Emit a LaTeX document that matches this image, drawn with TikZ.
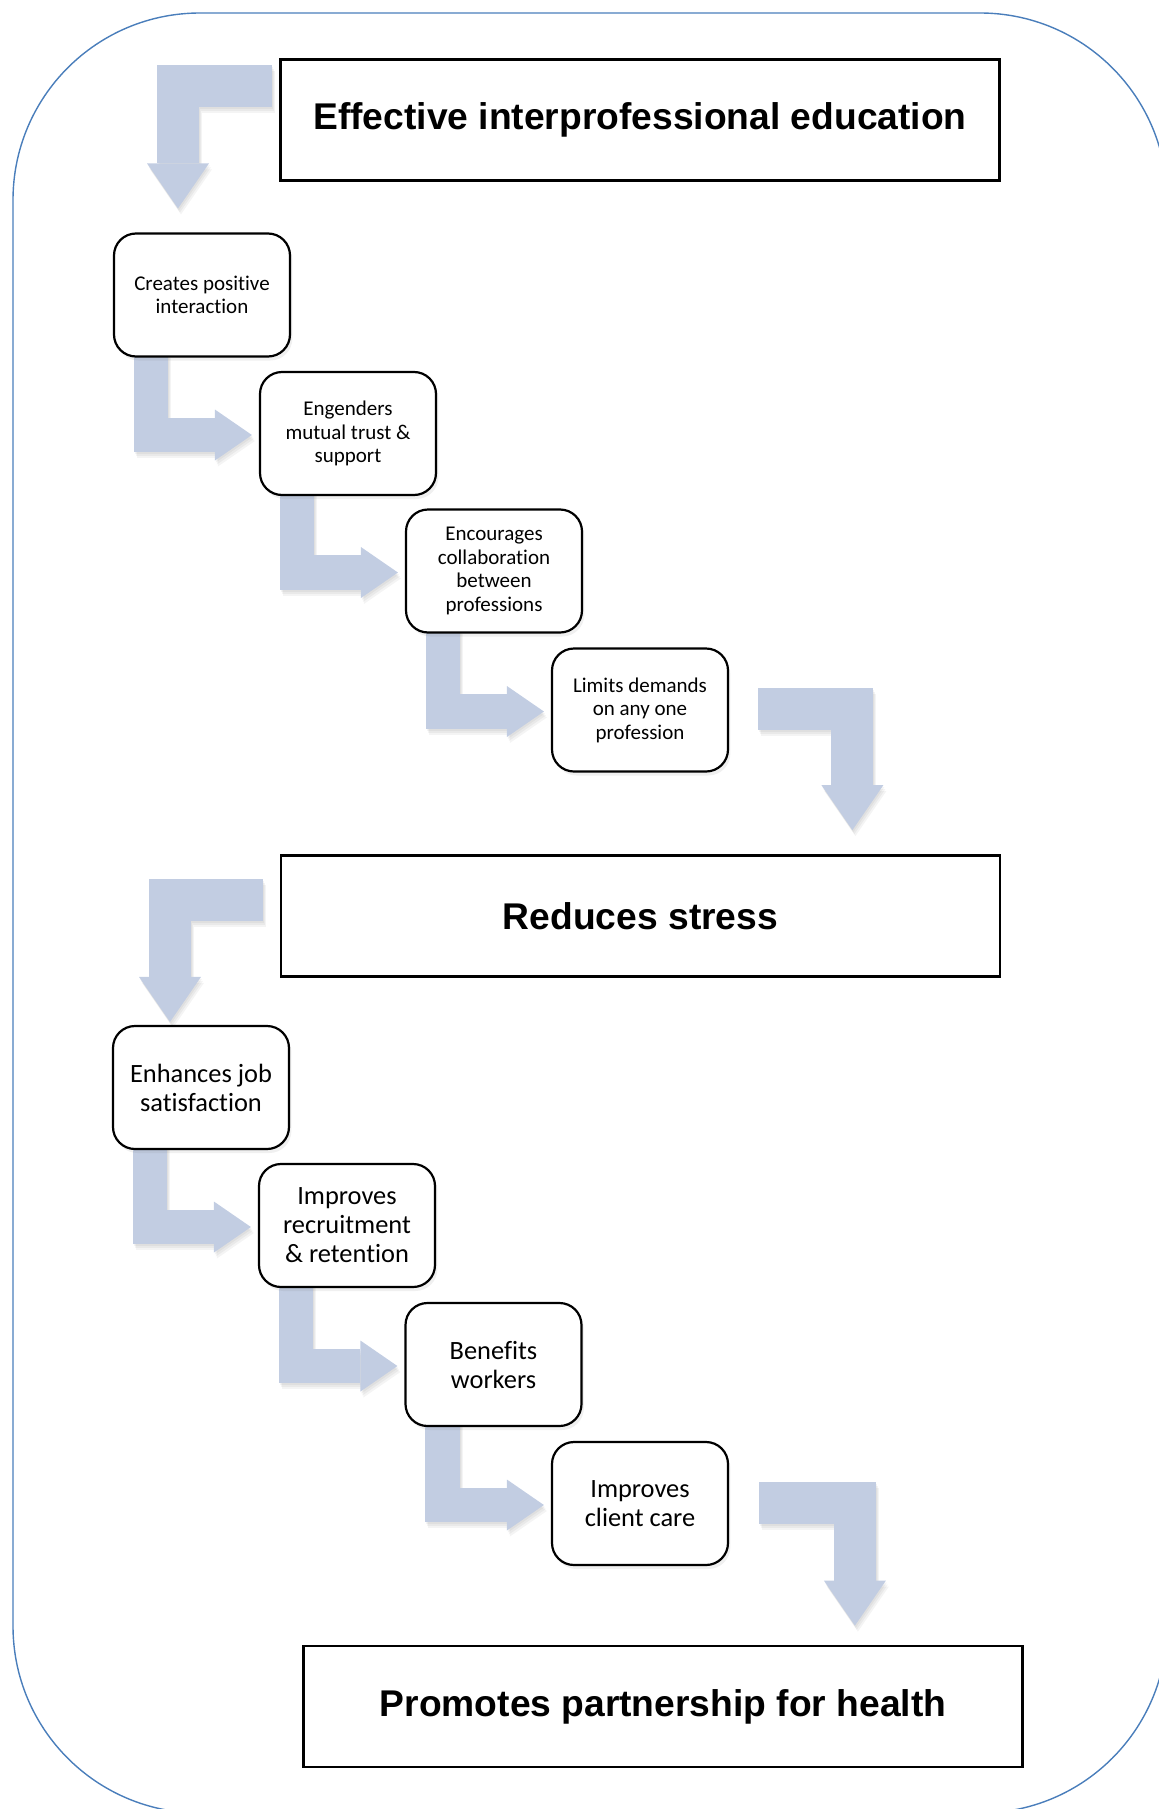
\documentclass[tikz,border=0pt]{standalone}
\usepackage{fontspec}
\setmainfont{Carlito}[Ligatures={NoCommon}]
\newfontfamily\arialfont{Liberation Sans}
\usetikzlibrary{calc,shadows}
\definecolor{arrowfill}{RGB}{194,205,226}
\definecolor{framecol}{RGB}{74,126,187}
\pgfdeclarelayer{background}
\pgfsetlayers{background,main}
\tikzset{
  stepbox/.style={draw=black, line width=1.1pt, rounded corners=11pt, fill=white,
    minimum width=88pt, minimum height=61.5pt, align=center, inner sep=2pt,
    drop shadow={shadow xshift=1.2pt, shadow yshift=-2pt, opacity=0.12}},
  smalltext/.style={font=\fontsize{10.5pt}{11.75pt}\selectfont},
  largetext/.style={font=\fontsize{13.2pt}{14.5pt}\selectfont},
  bigbox/.style={draw=black, line width=1.4pt, fill=white, minimum width=359.5pt,
    minimum height=60.5pt, inner sep=2pt, font=\arialfont\bfseries\fontsize{18.6pt}{22pt}\selectfont},
  shaft/.style={draw=arrowfill, line cap=butt, line join=miter},
  head/.style={fill=arrowfill},
  shadowshaft/.style={draw=black, opacity=0.045, line cap=butt, line join=miter},
  shadowhead/.style={fill=black, opacity=0.045},
  frame/.style={draw=framecol, line width=0.7pt, rounded corners=93.5pt}
}
% bent block arrow: horizontal first, then down to the tip
\newcommand{\bigarrowHV}[2]{%
  \foreach \sx/\sy in {0.5pt/-1pt, 1pt/-2pt, 1.5pt/-3pt}{%
    \begin{scope}[transform canvas={xshift=\sx,yshift=\sy}]
      \draw[shadowshaft, line width=21pt] (#1) -- (#2 |- #1) -- ($(#2)+(0,-45)$);
      \fill[shadowhead] ($(#2)+(-31,-45)$) -- ($(#2)+(31,-45)$) -- (#2) -- cycle;
    \end{scope}}
  \draw[shaft, line width=21pt] (#1) -- (#2 |- #1) -- ($(#2)+(0,-45)$);
  \fill[head] ($(#2)+(-31,-45)$) -- ($(#2)+(31,-45)$) -- (#2) -- cycle;
}
% bent block arrow between two step boxes: down, then right
\newcommand{\smallarrow}[2]{%
  \path ($(#1.south west)+(38,-6)$) coordinate (#1#2s)
        ($(#2.west)+(-7,1.5)$) coordinate (#1#2t);
  \foreach \sx/\sy in {0.5pt/-1pt, 1pt/-2pt, 1.5pt/-3pt}{%
    \begin{scope}[transform canvas={xshift=\sx,yshift=\sy}]
      \draw[shadowshaft, line width=17.25pt] (#1#2s) -- (#1#2s |- #1#2t) -- ($(#1#2t)+(-37,0)$);
      \fill[shadowhead] ($(#1#2t)+(-37,-25.5)$) -- ($(#1#2t)+(-37,25.5)$) -- (#1#2t) -- cycle;
    \end{scope}}
  \draw[shaft, line width=17.25pt] (#1#2s) -- (#1#2s |- #1#2t) -- ($(#1#2t)+(-37,0)$);
  \fill[head] ($(#1#2t)+(-37,-25.5)$) -- ($(#1#2t)+(-37,25.5)$) -- (#1#2t) -- cycle;
}
\begin{document}
\begin{tikzpicture}[x=0.5pt, y=-0.5pt]
\path[use as bounding box] (0,0) rectangle (1158,1809);
\clip (0,0) rectangle (1158,1809);

% main boxes
\node[bigbox] (E1) at (640,120) {Effective interprofessional education};
\node[stepbox, smalltext] (B1) at (202,295) {Creates positive\\interaction};
\node[stepbox, smalltext] (B2) at (348,433.5) {Engenders\\mutual trust \&\\support};
\node[stepbox, smalltext] (B3) at (494,571) {Encourages\\collaboration\\between\\professions};
\node[stepbox, smalltext] (B4) at (640,710) {Limits demands\\on any one\\profession};
\node[bigbox] (E2) at (640.5,916) {Reduces stress};
\node[stepbox, largetext] (C1) at (201,1087.5) {Enhances job\\satisfaction};
\node[stepbox, largetext] (C2) at (347,1225.5) {Improves\\recruitment\\\& retention};
\node[stepbox, largetext] (C3) at (493.5,1364.5) {Benefits\\workers};
\node[stepbox, largetext] (C4) at (640,1503.5) {Improves\\client care};
\node[bigbox] (E3) at (663,1706.5) {Promotes partnership for health};

\begin{pgfonlayer}{background}
  \draw[frame] (13,13) rectangle (1167,1813);

  % E1 -> B1
  \coordinate (a0s) at ($(E1.west)+(-7,-34)$);
  \coordinate (a0t) at ($(B1.north)+(-24,-24)$);
  \bigarrowHV{a0s}{a0t}
  \smallarrow{B1}{B2}
  \smallarrow{B2}{B3}
  \smallarrow{B3}{B4}
  % B4 -> E2
  \coordinate (a4s) at ($(B4.east)+(29,-1.5)$);
  \coordinate (a4t) at ($(E2.north east)+(-149,-24)$);
  \bigarrowHV{a4s}{a4t}
  % E2 -> C1
  \coordinate (a5s) at ($(E2.west)+(-17,-16.5)$);
  \coordinate (a5t) at ($(C1.north)+(-31,-3)$);
  \bigarrowHV{a5s}{a5t}
  \smallarrow{C1}{C2}
  \smallarrow{C2}{C3}
  \smallarrow{C3}{C4}
  % C4 -> E3
  \coordinate (a9s) at ($(C4.east)+(30,-1)$);
  \coordinate (a9t) at ($(E3.north east)+(-169,-19)$);
  \bigarrowHV{a9s}{a9t}
\end{pgfonlayer}
\end{tikzpicture}
\end{document}
